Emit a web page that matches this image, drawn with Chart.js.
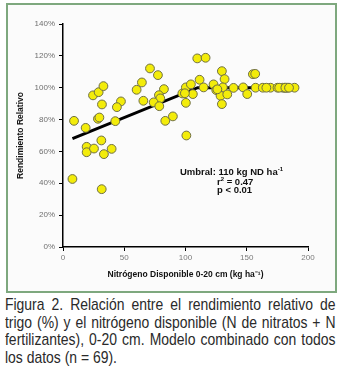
<!DOCTYPE html>
<html>
<head>
<meta charset="utf-8">
<script src="https://cdn.jsdelivr.net/npm/chart.js@4/dist/chart.umd.min.js"></script>
<style>
  html, body { margin: 0; padding: 0; background: #ffffff; }
  #wrap { position: relative; width: 342px; height: 377px; overflow: hidden; }
  #box { position: absolute; left: 6px; top: 3px; width: 327px; height: 286px;
         border: 2px solid #7ea87e; background: #fbfbfb; }
  #cv { position: absolute; left: 0; top: 0; }
  .ann { position: absolute; font-family: Arial, "Liberation Sans", sans-serif; font-weight: bold;
         font-size: 9.5px; color: #111; white-space: nowrap; line-height: 1; }
  .ann sup { font-size: 6px; vertical-align: 4px; }
  #caption { position: absolute; left: 5px; top: 296px; width: 403px;
             transform: scaleX(0.82); transform-origin: 0 0;
             font-family: "Liberation Sans", Arial, sans-serif;
             font-size: 17px; line-height: 17.7px; color: #2a2a2a; }
  #caption span { display: block; text-align: justify; text-align-last: justify; white-space: nowrap; }
  #caption span.last { text-align-last: left; }
</style>
</head>
<body>
<div id="wrap">
  <div id="box"></div>
  <canvas id="cv" width="342" height="295"></canvas>
  <div class="ann" style="left:180px; top:166px;">Umbral: 110 kg ND ha<sup>-1</sup></div>
  <div class="ann" style="left:217px; top:176px;">r<sup>2</sup> = 0.47</div>
  <div class="ann" style="left:217px; top:185px;">p &lt; 0.01</div>
  <div id="caption">
    <span>Figura 2. Relación entre el rendimiento relativo de</span>
    <span>trigo (%) y el nitrógeno disponible (N de nitratos + N</span>
    <span>fertilizantes), 0-20 cm. Modelo combinado con todos</span>
    <span class="last">los datos (n = 69).</span>
  </div>
</div>
<script>
// ---- Data ----
const nitrogen = [
  9.0, 18.5, 24.5, 29.1, 33.0, 31.8, 28.5, 29.7, 47.3, 44.0,
  42.7, 19.3, 19.3, 25.3, 31.3, 33.4, 39.7, 7.7, 31.6, 71.0,
  77.5, 64.4, 60.1, 65.6, 82.4, 78.3, 79.4, 74.0, 78.6, 83.5,
  89.7, 100.7, 97.4, 100.3, 104.4, 100.3, 106.0, 109.6, 116.4, 129.7,
  131.9, 111.5, 114.8, 122.9, 125.1, 130.5, 128.6, 134.1, 129.7, 139.2,
  147.1, 150.4, 155.0, 156.9, 157.2, 163.1, 169.4, 175.1, 179.4, 180.8,
  182.2, 183.5, 189.0, 176.5, 181.5, 184.5, 166.0, 99.5, 126.0
];
const yieldRel = [
  79.2, 74.8, 95.2, 97.2, 101.0, 89.5, 80.5, 81.3, 91.4, 87.8,
  79.0, 62.9, 59.5, 61.8, 66.9, 58.3, 61.6, 42.7, 36.3, 112.1,
  107.9, 103.3, 98.7, 91.8, 99.1, 95.3, 93.3, 90.8, 88.4, 79.2,
  82.0, 70.0, 96.4, 100.2, 102.1, 90.5, 96.0, 118.4, 118.8, 110.4,
  105.4, 105.0, 100.2, 102.1, 98.5, 100.2, 94.9, 95.8, 89.7, 99.9,
  100.2, 96.0, 108.5, 108.7, 100.0, 100.0, 100.0, 100.0, 100.0, 100.0,
  100.0, 100.0, 100.0, 100.0, 100.0, 100.0, 100.0, 96.5, 99.0
];
// Linear-plateau model: threshold at 110 kg ND/ha
const modelX = [7.7, 110, 189];
const modelY = [68, 100, 100];
const yTicks = [0, 20, 40, 60, 80, 100, 120, 140];
const xTicks = [0, 50, 100, 150, 200];

const scatterPts = nitrogen.map((x, i) => ({ x: x, y: yieldRel[i] }));
const modelPts = modelX.map((x, i) => ({ x: x, y: modelY[i] }));

const tickFont = { family: 'Arial, "Liberation Sans", sans-serif', size: 8 };
const titleFont = { family: 'Arial, "Liberation Sans", sans-serif', size: 8.5, weight: 'bold' };

new Chart(document.getElementById('cv'), {
  type: 'scatter',
  data: {
    datasets: [
      {
        type: 'line',
        data: modelPts,
        borderColor: '#000000',
        borderWidth: 3,
        pointRadius: 0,
        fill: false,
        tension: 0,
        order: 2
      },
      {
        data: scatterPts,
        backgroundColor: '#f3ec0a',
        borderColor: '#6f6f45',
        borderWidth: 1,
        pointRadius: 4.4,
        order: 1
      }
    ]
  },
  options: {
    responsive: false,
    animation: false,
    devicePixelRatio: 1,
    layout: { padding: { left: 0, right: 34, top: 24, bottom: 0 } },
    plugins: { legend: { display: false }, tooltip: { enabled: false } },
    scales: {
      x: {
        type: 'linear',
        min: 0, max: 200,
        afterBuildTicks: s => { s.ticks = xTicks.map(v => ({ value: v })); },
        afterFit: s => { s.height = 48; },
        grid: { display: true, drawOnChartArea: false, drawTicks: true, tickLength: 4, color: '#000', lineWidth: 1 },
        border: { display: true, color: '#000', width: 1.5 },
        ticks: { color: '#7a7a7a', font: tickFont, padding: 2, maxRotation: 0 },
        title: { display: true, text: 'Nitrógeno Disponible 0-20 cm (kg ha⁻¹)', color: '#111', font: titleFont,
                 padding: { top: 0, bottom: 15 } }
      },
      y: {
        type: 'linear',
        min: 0, max: 140,
        afterBuildTicks: s => { s.ticks = yTicks.map(v => ({ value: v })); },
        afterFit: s => { s.width = 63; },
        grid: { display: true, drawOnChartArea: false, drawTicks: true, tickLength: 4, color: '#000', lineWidth: 1 },
        border: { display: true, color: '#000', width: 1.5 },
        ticks: { color: '#6e6e6e', font: tickFont, padding: 4, callback: v => v + '%' },
        title: { display: true, text: 'Rendimiento Relativo', color: '#111', font: titleFont,
                 padding: { top: 16, bottom: 0 } }
      }
    }
  }
});
</script>
</body>
</html>
